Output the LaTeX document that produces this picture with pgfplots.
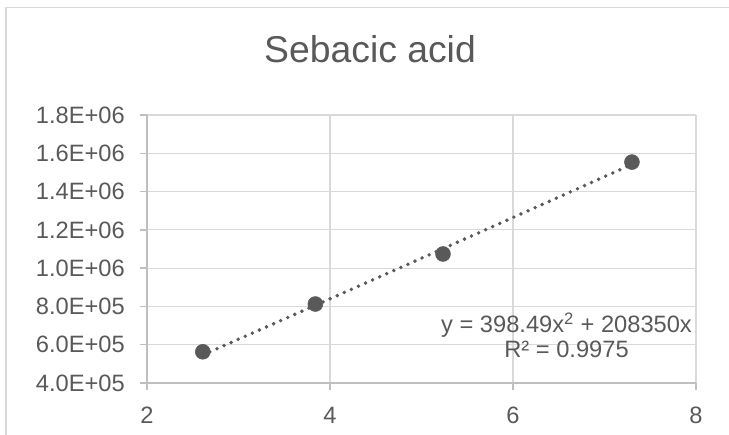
\documentclass[border=0pt]{standalone}
\usepackage{pgfplots}
\pgfplotsset{compat=1.18}
\usepackage{fontspec}
\setmainfont{Liberation Sans}
\definecolor{txt}{RGB}{89,89,89}
\definecolor{gridc}{RGB}{217,217,217}
\definecolor{axl}{RGB}{191,191,191}
\definecolor{mk}{RGB}{89,89,89}
\begin{document}
\begin{tikzpicture}
\path[use as bounding box] (0pt,0pt) rectangle (546.75pt,326.25pt);
\draw[gridc, line width=1pt] (4.5pt,0pt) -- (4.5pt,320.6pt) -- (546.75pt,320.6pt);
\node[anchor=base, text=txt, font=\fontsize{28}{33}\selectfont, inner sep=0pt] at (277.5pt,279pt) {Sebacic acid};
\begin{axis}[
  at={(110.25pt,39pt)}, anchor=south west,
  scale only axis, width=411.75pt, height=201pt,
  xmin=2, xmax=8, ymin=400000, ymax=1800000,
  xtick={2,4,6,8}, xticklabels={2,4,6,8},
  ytick={400000,600000,800000,1000000,1200000,1400000,1600000,1800000},
  yticklabels={4.0E+05,6.0E+05,8.0E+05,1.0E+06,1.2E+06,1.4E+06,1.6E+06,1.8E+06},
  scaled y ticks=false,
  axis lines*=left,
  grid=major, major grid style={gridc, line width=0.8pt},
  axis line style={axl, line width=1pt},
  tick style={axl, line width=1pt}, tick align=outside, major tick length=5.25pt,
  ticklabel style={text=txt, font=\fontsize{17.75}{21}\selectfont, inner sep=0pt},
  yticklabel style={anchor=east, xshift=-11.2pt},
  xticklabel style={anchor=north, yshift=-12.5pt},
  clip=false,
]
\addplot[mk, dash pattern=on 0pt off 5.8pt, line cap=round, line width=2.9pt] coordinates {
 (2.61,546508) (3.0,628636) (3.5,734107) (4.0,839776) (4.5,945644) (5.0,1051712)
 (5.5,1157979) (6.0,1264446) (6.5,1371111) (7.0,1477976) (7.3,1542190)};
\addplot[only marks, mark=*, mark size=5.6pt, mark options={fill=mk, draw=mk}] coordinates {
 (2.61,563000) (3.84,812500) (5.235,1074000) (7.30,1554000)};
\node[align=center, text=txt, font=\fontsize{17.75}{18.75}\selectfont, inner sep=0pt] at (axis cs:6.585,648000) {y = 398.49x\textsuperscript{2} + 208350x\\R² = 0.9975};
\end{axis}
\end{tikzpicture}
\end{document}
